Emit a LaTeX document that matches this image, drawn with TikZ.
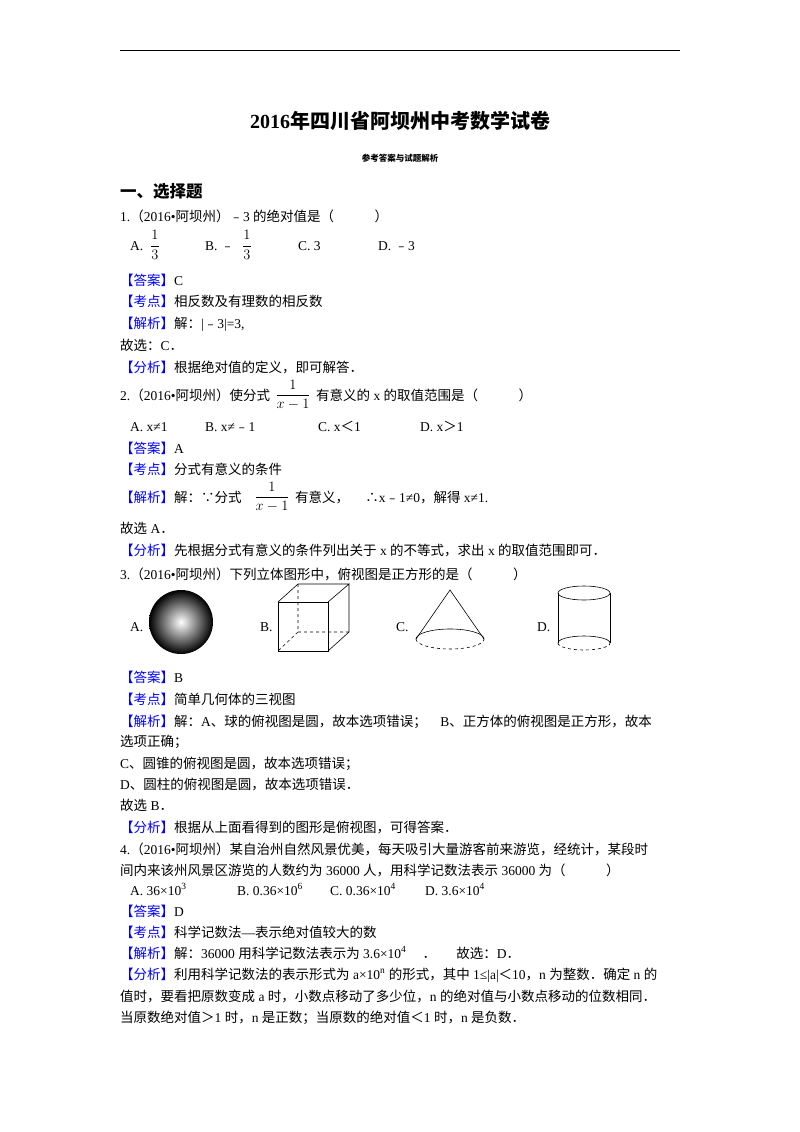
\documentclass[tikz,border=0pt]{standalone}
\usepackage{fontspec}
\setmainfont{Liberation Serif}
\newfontfamily\cjk{Noto Sans CJK SC}
\newfontfamily\lat{Liberation Serif}
\newcount\cc
\def\setrange#1#2{\cc=#1 \loop\XeTeXcharclass\cc=1 \ifnum\cc<#2 \advance\cc 1 \repeat}
\setrange{"3000}{"303F}
\setrange{"4E00}{"9FFF}
\setrange{"FE30}{"FE6F}
\setrange{"FF00}{"FFEF}
\setrange{"2234}{"2235}
\XeTeXinterchartokenstate=1
\XeTeXinterchartoks 0 1 {\cjk}
\XeTeXinterchartoks 4095 1 {\cjk}
\XeTeXinterchartoks 1 0 {\lat}
\XeTeXinterchartoks 1 4095 {\lat}
\newcommand\tag[1]{\textcolor{blue}{【#1】}}
\newcommand\mn{{\cjk ﹣}}
\begin{document}
\begin{tikzpicture}[x=1pt,y=-1pt,
 tx/.style={anchor=base west,inner sep=0pt,font=\fontsize{13.5}{16}\selectfont\lat},
 fr/.style={anchor=center,inner sep=0pt,font=\fontsize{13.5}{16}\selectfont}]
\useasboundingbox (0,0) rectangle (800,1132);
\draw[line width=0.8] (120,50) -- (680,50);
\node[anchor=base,inner sep=0pt,font=\fontsize{20}{24}\selectfont\bfseries] (title) at (400,128) {2016年四川省阿坝州中考数学试卷};
\node[anchor=base,inner sep=0pt,font=\fontsize{8.5}{10}\selectfont\bfseries] (sub) at (400,161) {参考答案与试题解析};
\node[tx,font=\fontsize{16.5}{20}\selectfont\bfseries] (sec) at (120,197) {一、选择题};
% Q1
\node[tx] (q1) at (120,221) {1.（2016•阿坝州）\mn3 的绝对值是（\hspace{3em}）};
\node[tx] (q1a) at (130,250) {A.};
\node[fr] (q1af) at (155,245) {$\displaystyle\frac{1}{3}$};
\node[tx] (q1b) at (205,250) {B.\ \mn};
\node[fr] (q1bf) at (247,245) {$\displaystyle\frac{1}{3}$};
\node[tx] (q1c) at (298,250) {C. 3};
\node[tx] (q1d) at (378,250) {D.\ \mn3};
\node[tx] (a1) at (120,285) {\tag{答案}C};
\node[tx] (k1) at (120,306) {\tag{考点}相反数及有理数的相反数};
\node[tx] (j1) at (120,328) {\tag{解析}解：|\mn3|=3,};
\node[tx] (g1) at (120,350) {故选：C．};
\node[tx] (f1) at (120,372) {\tag{分析}根据绝对值的定义，即可解答．};
% Q2
\node[tx] (q2) at (120,400) {2.（2016•阿坝州）使分式};
\node[fr] (q2f) at (293,395) {$\displaystyle\frac{1}{x-1}$};
\node[tx] (q2r) at (316,400) {有意义的 x 的取值范围是（\hspace{3em}）};
\node[tx] (q2a) at (130,431) {A. x≠1};
\node[tx] (q2b) at (205,431) {B. x≠\mn1};
\node[tx] (q2c) at (318,431) {C. x＜1};
\node[tx] (q2d) at (420,431) {D. x＞1};
\node[tx] (a2) at (120,453) {\tag{答案}A};
\node[tx] (k2) at (120,474) {\tag{考点}分式有意义的条件};
\node[tx] (j2) at (120,502) {\tag{解析}解：∵分式};
\node[fr] (j2f) at (272,497) {$\displaystyle\frac{1}{x-1}$};
\node[tx] (j2r) at (295,502) {有意义，\hspace{1.2em}∴x\mn1≠0，解得 x≠1.};
\node[tx] (g2) at (120,533) {故选 A．};
\node[tx] (f2) at (120,555) {\tag{分析}先根据分式有意义的条件列出关于 x 的不等式，求出 x 的取值范围即可．};
% Q3
\node[tx] (q3) at (120,579) {3.（2016•阿坝州）下列立体图形中，俯视图是正方形的是（\hspace{3em}）};
\node[tx] (la) at (130,631) {A.};
\shade[ball color=white,inner color=white,outer color=black] (181,622) circle (32);
\node[tx] (lb) at (260,631) {B.};
\draw[line width=0.6] (278,602) rectangle (328,651);
\draw[line width=0.6] (278,602) -- (298,584) -- (349,584) -- (328,602) (349,584) -- (349,632) -- (328,651);
\draw[line width=0.6,dashed] (298,584) -- (298,632) -- (349,632) (298,632) -- (278,651);
\node[tx] (lc) at (396,631) {C.};
\draw[line width=0.6] (416,639) -- (450,590) -- (484,639);
\draw[line width=0.6] (416,639) arc[start angle=180,end angle=360,x radius=34,y radius=10];
\draw[line width=0.6,dashed] (416,639) arc[start angle=180,end angle=0,x radius=34,y radius=10];
\node[tx] (ld) at (537,631) {D.};
\draw[line width=0.6] (584,593) ellipse[x radius=26,y radius=7];
\draw[line width=0.6] (558,593) -- (558,643) (610,593) -- (610,643);
\draw[line width=0.6] (558,643) arc[start angle=180,end angle=360,x radius=26,y radius=7];
\draw[line width=0.6,dashed] (558,643) arc[start angle=180,end angle=0,x radius=26,y radius=7];
\node[tx] (a3) at (120,682) {\tag{答案}B};
\node[tx] (k3) at (120,704) {\tag{考点}简单几何体的三视图};
\node[tx] (j3) at (120,726) {\tag{解析}解：A、球的俯视图是圆，故本选项错误；\hspace{1em}B、正方体的俯视图是正方形，故本};
\node[tx] (j3b) at (120,746) {选项正确；};
\node[tx] (j3c) at (120,768) {C、圆锥的俯视图是圆，故本选项错误；};
\node[tx] (j3d) at (120,789) {D、圆柱的俯视图是圆，故本选项错误．};
\node[tx] (g3) at (120,810) {故选 B．};
\node[tx] (f3) at (120,832) {\tag{分析}根据从上面看得到的图形是俯视图，可得答案．};
% Q4
\node[tx] (q4) at (120,854) {4.（2016•阿坝州）某自治州自然风景优美，每天吸引大量游客前来游览，经统计，某段时};
\node[tx] (q4b) at (120,875) {间内来该州风景区游览的人数约为 36000 人，用科学记数法表示 36000 为（\hspace{3em}）};
\node[tx] (q4a1) at (130,895) {A. 36×10\textsuperscript{3}};
\node[tx] (q4a2) at (237,895) {B. 0.36×10\textsuperscript{6}};
\node[tx] (q4a3) at (330,895) {C. 0.36×10\textsuperscript{4}};
\node[tx] (q4a4) at (425,895) {D. 3.6×10\textsuperscript{4}};
\node[tx] (a4) at (120,916) {\tag{答案}D};
\node[tx] (k4) at (120,937) {\tag{考点}科学记数法—表示绝对值较大的数};
\node[tx] (j4) at (120,958) {\tag{解析}解：36000 用科学记数法表示为 3.6×10\textsuperscript{4}\hspace{1.2em}．\hspace{1.5em}故选：D．};
\node[tx] (f4) at (120,979) {\tag{分析}利用科学记数法的表示形式为 a×10\textsuperscript{n} 的形式，其中 1≤|a|＜10，n 为整数．确定 n 的};
\node[tx] (f4b) at (120,1001) {值时，要看把原数变成 a 时，小数点移动了多少位，n 的绝对值与小数点移动的位数相同．};
\node[tx] (f4c) at (120,1022) {当原数绝对值＞1 时，n 是正数；当原数的绝对值＜1 时，n 是负数．};
\end{tikzpicture}
\end{document}
